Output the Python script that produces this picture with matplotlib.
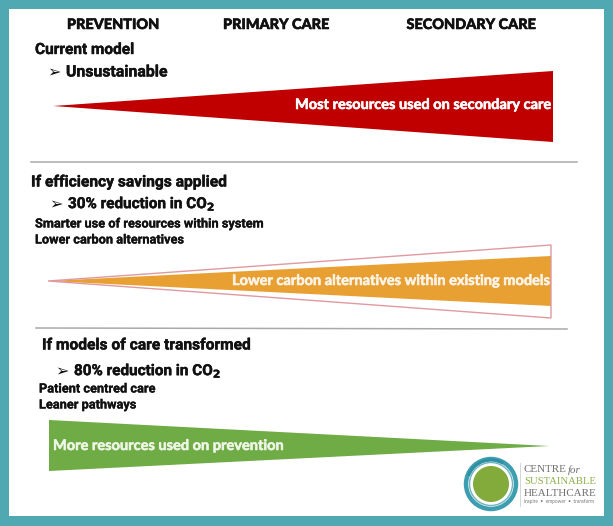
import matplotlib
matplotlib.use("Agg")
import matplotlib.pyplot as plt
import matplotlib.patheffects as pe
from matplotlib.patches import Polygon, Rectangle, Circle, Wedge

W, H = 613, 526
TEAL = "#4FA8B2"
RED = "#C00000"
ORANGE = "#E9A033"
GREEN = "#6FAC46"

column_heads = ["PREVENTION", "PRIMARY CARE", "SECONDARY CARE"]
column_x = [113, 276, 471]

red_wedge = [(53, 106), (553, 71), (553, 142)]
outline_wedge = [(48, 281), (551, 245), (551, 318)]
orange_wedge = [(48, 281), (551, 256), (551, 306)]
green_wedge = [(49, 420), (549, 446), (49, 471)]

fig = plt.figure(figsize=(W / 100, H / 100), dpi=100, facecolor="white")
ax = fig.add_axes([0, 0, 1, 1])
ax.set_xlim(0, W)
ax.set_ylim(H, 0)
ax.axis("off")

# frame
for r in [(0, 0, W, 9), (0, 516, W, 10), (0, 0, 9, H), (604, 0, 9, H)]:
    ax.add_patch(Rectangle((r[0], r[1]), r[2], r[3], fc=TEAL, ec="none", zorder=5))

def T(x, y, s, size=10.5, color="#111111", ha="left", family="Roboto", weight="bold", stroke=0, **kw):
    t = ax.text(x, y, s, fontsize=size, color=color, ha=ha, va="center",
                family=family, fontweight=weight, **kw)
    if stroke:
        t.set_path_effects([pe.withStroke(linewidth=stroke, foreground=color)])
    return t

for x, s in zip(column_x, column_heads):
    T(x, 25, s, size=10.4, ha="center", family="Lato", weight="black", stroke=0.4)

# wedges
ax.add_patch(Polygon(red_wedge, fc=RED, ec="none"))
ax.add_patch(Polygon(orange_wedge, fc=ORANGE, ec="none"))
ax.add_patch(Polygon(outline_wedge, fc="none", ec="#DE9AA0", lw=1.0, joinstyle="miter"))
ax.add_patch(Polygon(green_wedge, fc=GREEN, ec="none"))

# rules
ax.plot([31, 577], [162, 162], color="#A9A9A9", lw=1.1)
ax.plot([36, 567], [328, 329], color="#A9A9A9", lw=1.1)

# text blocks
ARROW = 11.5
T(35, 50, "Current model", size=11.1, stroke=0.3)
T(47, 73, "➢", size=ARROW, family="DejaVu Sans", weight="normal")
T(66, 72, "Unsustainable", size=11.4, stroke=0.3)

T(31, 182, "If efficiency savings applied", size=11.2, stroke=0.3)
T(49, 205, "➢", size=ARROW, family="DejaVu Sans", weight="normal")
T(68, 204, "30% reduction in CO$_\\mathbf{2}$", size=11.0, stroke=0.3)
T(35, 224, "Smarter use of resources within system", size=9.2, stroke=0.2)
T(35, 240, "Lower carbon alternatives", size=9.2, stroke=0.2)

T(42, 345, "If models of care transformed", size=11.2, stroke=0.3)
T(55, 372, "➢", size=ARROW, family="DejaVu Sans", weight="normal")
T(74, 371, "80% reduction in CO$_\\mathbf{2}$", size=11.0, stroke=0.3)
T(39, 389, "Patient centred care", size=9.2, stroke=0.2)
T(39, 405, "Leaner pathways", size=9.2, stroke=0.2)

WHT = "#FBF3E6"
T(295, 105, "Most resources used on secondary care", size=10.5, color="white", family="Lato", stroke=0.4)
T(232, 281, "Lower carbon alternatives within existing models", size=10.5, color=WHT, family="Lato", stroke=0.4)
T(53, 446, "More resources used on prevention", size=10.5, color="#EEF5E6", family="Lato", stroke=0.4)

# logo
cx, cy = 491, 484
ax.add_patch(Circle((cx, cy), 25, fc="none", ec="#3E9EB0", lw=3.2))
ax.add_patch(Circle((cx, cy), 21.5, fc="white", ec="#6DB4C0", lw=1.0))
ax.add_patch(Circle((cx, cy), 18, fc="#82AB3B", ec="none"))
ax.add_patch(Wedge((cx, cy), 25.5, 200, 300, width=3, fc="#2E8FA3", ec="none"))
ax.plot([520, 520], [463, 506], color="#D6D6D6", lw=0.7)
T(524, 470, "CENTRE", size=7.9, color="#6F6F6F", family="Liberation Serif", weight="normal")
T(568, 470, "for", size=7.9, color="#6F6F6F", family="Liberation Serif", weight="normal", style="italic")
T(524, 481, "SUSTAINABLE", size=7.7, color="#8DB04A", family="Liberation Serif", weight="normal")
T(524, 493, "HEALTHCARE", size=7.9, color="#6F6F6F", family="Liberation Serif", weight="normal")
T(524, 502, "inspire  •  empower  •  transform", size=3.4, color="#777777", family="Lato", weight="normal")

fig.savefig("out.png", dpi=100, facecolor="white")
